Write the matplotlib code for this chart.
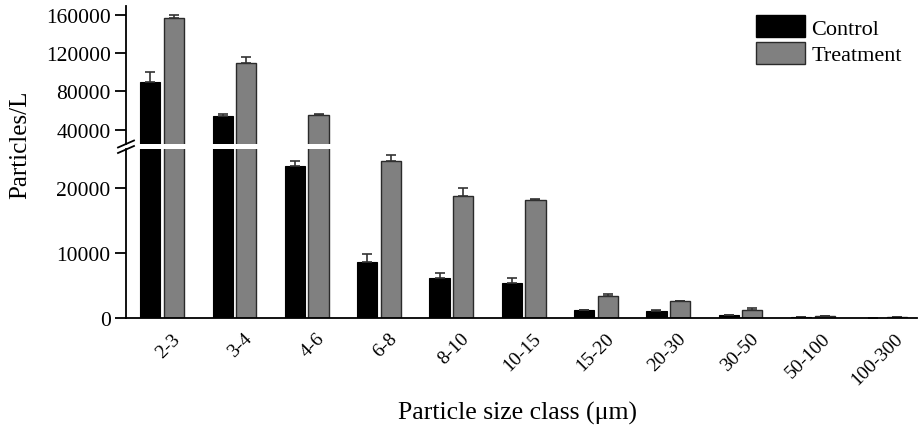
import matplotlib
matplotlib.use("Agg")
import matplotlib.pyplot as plt
import matplotlib.transforms as mtransforms
import numpy as np
from matplotlib.patches import Patch

plt.rcParams['font.family'] = ['Liberation Serif', 'DejaVu Serif']

# Particle counts per size class
size_classes = ["2-3", "3-4", "4-6", "6-8", "8-10", "10-15", "15-20",
                "20-30", "30-50", "50-100", "100-300"]
control = [90000, 54000, 23400, 8600, 6200, 5400, 1230, 1030, 510, 100, 20]
control_err = [10000, 2000, 800, 1300, 770, 770, 0, 200, 0, 0, 0]
treatment = [156500, 110000, 55500, 24150, 18750, 18100, 3380, 2560, 1230, 250, 80]
treatment_err = [3500, 5500, 500, 1000, 1300, 150, 350, 0, 350, 0, 0]

W, H = 918, 431
fig = plt.figure(figsize=(W / 100, H / 100), dpi=100)

left = 126 / W
width = 791 / W
ax_top = fig.add_axes([left, (H - 145) / H, width, 138 / H])
ax_bot = fig.add_axes([left, (H - 319) / H, width, 169 / H])

top_lim = (24940, 169400)
bot_lim = (0, 26000)
ax_top.set_ylim(*top_lim)
ax_bot.set_ylim(*bot_lim)

x = np.arange(len(size_classes))
bw = 0.28
off = 0.163


def draw_errors(ax, xpos, vals, errs, lo, hi):
    vals = np.asarray(vals, float)
    errs = np.asarray(errs, float)
    keep = (vals >= lo) & (vals < hi)
    ax.errorbar(xpos[keep], vals[keep], yerr=[np.zeros(keep.sum()), errs[keep]],
                fmt="none", ecolor="#333333", elinewidth=1.2, capsize=3.6,
                capthick=1.2)


for ax, (lo, hi) in ((ax_top, top_lim), (ax_bot, bot_lim)):
    ax.bar(x - off, control, bw, color="black", edgecolor="black", linewidth=0.8)
    ax.bar(x + off, treatment, bw, color="#808080", edgecolor="#2a2a2a", linewidth=1.0)
    draw_errors(ax, x - off, control, control_err, lo, hi)
    draw_errors(ax, x + off, treatment, treatment_err, lo, hi)
    ax.set_xlim(-0.5, 10.44)
    ax.spines['top'].set_visible(False)
    ax.spines['right'].set_visible(False)
    for s in ax.spines.values():
        s.set_linewidth(1.3)
    ax.tick_params(axis='y', direction='out', length=8, width=1.3, labelsize=15.5, pad=3)

ax_top.set_yticks([40000, 80000, 120000, 160000])
ax_top.spines['bottom'].set_visible(False)
ax_top.set_xticks([])

ax_bot.set_yticks([0, 10000, 20000])
ax_bot.set_xticks(x)
ax_bot.set_xticklabels(size_classes, rotation=45, fontsize=14,
                       ha='right', rotation_mode='anchor')
ax_bot.tick_params(axis='x', length=0, pad=8.5)
shift = mtransforms.ScaledTranslation(9 / 100, 0, fig.dpi_scale_trans)
for lbl in ax_bot.get_xticklabels():
    lbl.set_transform(lbl.get_transform() + shift)

# Axis break marks on the left spine
for yb in (145.0, 150.5):
    fig.add_artist(plt.Line2D([118 / W, 134 / W],
                              [(H - yb - 3.5) / H, (H - yb + 3.5) / H],
                              color="black", lw=1.3))

fig.text(20 / W, (H - 145) / H, "Particles/L", rotation=90, fontsize=18,
         ha='center', va='center')
fig.text(518 / W, (H - 413) / H, "Particle size class (μm)", fontsize=18.5,
         ha='center', va='center')

handles = [Patch(facecolor="black", edgecolor="black"),
           Patch(facecolor="#808080", edgecolor="#2a2a2a")]
fig.legend(handles, ["Control", "Treatment"], loc="upper left",
           bbox_to_anchor=(756 / W, (H - 16) / H), frameon=False, fontsize=16,
           handlelength=2.2, handleheight=1.15, labelspacing=0.15,
           handletextpad=0.3, borderpad=0, borderaxespad=0)

fig.savefig("out.png", dpi=100)
